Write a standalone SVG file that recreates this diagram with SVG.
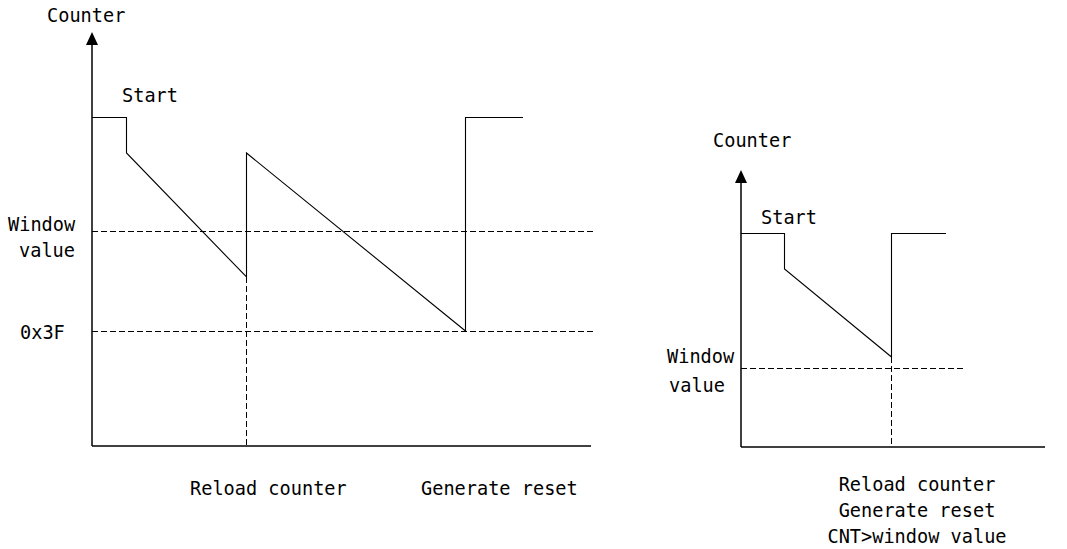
<svg xmlns="http://www.w3.org/2000/svg" width="1067" height="549" viewBox="0 0 1067 549">
<style>
text{font-family:"DejaVu Sans Mono","Liberation Mono",monospace;font-size:18.6px;fill:#000}
.ax{stroke:#000;stroke-width:1.5;fill:none}
.sig{stroke:#000;stroke-width:1.1;fill:none}
.dash{stroke:#000;stroke-width:1;fill:none;stroke-dasharray:6,3}
.head{fill:#000}
</style>
<g id="left-chart">
<path class="ax" d="M92,446 V43"/>
<path class="head" d="M86,45 L92,32 L98,45 Z"/>
<path class="ax" d="M92,446 H591"/>
<path class="sig" d="M92,117.5 H126.5 V153 L246.5,277 V153 L465.5,331 V117.5 H523"/>
<path class="dash" d="M92,231.5 H594 M92,331.5 H594 M246.5,277 V446"/>
<text x="47" y="22">Counter</text>
<text x="122" y="102">Start</text>
<text x="8" y="231">Window</text>
<text x="19" y="257">value</text>
<text x="20" y="339">0x3F</text>
<text x="190" y="495">Reload counter</text>
<text x="421" y="495">Generate reset</text>
</g>
<g id="right-chart">
<path class="ax" d="M741,447 V180"/>
<path class="head" d="M735,183 L741,170 L747,183 Z"/>
<path class="ax" d="M741,447 H1045"/>
<path class="sig" d="M741,233.5 H784.5 V269 L891.5,357 V233.5 H946"/>
<path class="dash" d="M741,368.5 H965 M891.5,357 V447"/>
<text x="713" y="147">Counter</text>
<text x="761" y="224">Start</text>
<text x="667" y="363">Window</text>
<text x="669" y="392">value</text>
<text x="917" y="491" text-anchor="middle">Reload counter</text>
<text x="917" y="517" text-anchor="middle">Generate reset</text>
<text x="917" y="543" text-anchor="middle">CNT&gt;window value</text>
</g>
<g id="connectors"></g>
</svg>
